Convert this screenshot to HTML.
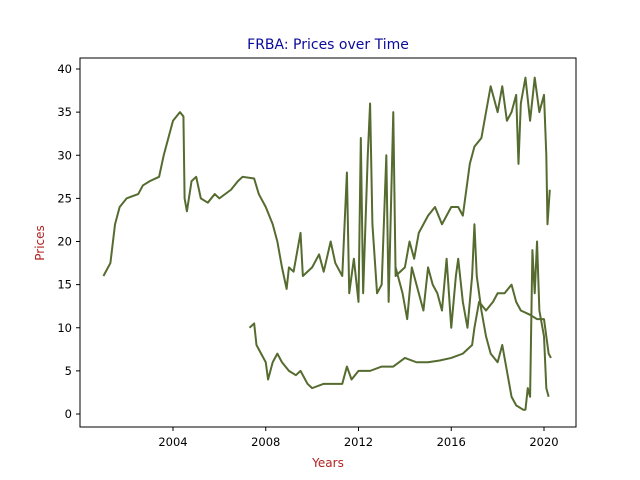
<!DOCTYPE html>
<html><head><meta charset="utf-8"><style>
body{margin:0;background:#fff;}
svg{display:block;font-family:"DejaVu Sans","Liberation Sans",sans-serif;}
</style></head><body>
<svg id="chart" width="640" height="480">
<rect x="0" y="0" width="640" height="480" fill="#fff"/>
<text x="328" y="49" text-anchor="middle" font-size="14" fill="#0a0a9a">FRBA: Prices over Time</text>
<text x="328" y="467" text-anchor="middle" font-size="12" fill="#b22222">Years</text>
<text transform="translate(44,243) rotate(-90)" text-anchor="middle" font-size="12" fill="#b22222">Prices</text>
<g id="plot"></g>
<rect x="80" y="58" width="496" height="369" fill="none" stroke="#000" stroke-width="1"/>
</svg>
<script>
const xTicks=[2004,2008,2012,2016,2020];
const yTicks=[0,5,10,15,20,25,30,35,40];
const upperYears=[2001.0,2001.3,2001.5,2001.7,2002,2002.5,2002.7,2003,2003.4,2003.6,2003.8,2004,2004.3,2004.45,2004.5,2004.6,2004.8,2005,2005.2,2005.5,2005.8,2006,2006.5,2006.8,2007,2007.5,2007.7,2008,2008.3,2008.5,2008.7,2008.9,2009,2009.2,2009.5,2009.6,2010,2010.3,2010.5,2010.8,2011,2011.3,2011.5,2011.6,2011.8,2012,2012.1,2012.2,2012.4,2012.5,2012.6,2012.8,2013,2013.2,2013.3,2013.5,2013.6,2014,2014.2,2014.4,2014.6,2015,2015.3,2015.6,2016,2016.3,2016.5,2016.8,2017,2017.3,2017.5,2017.7,2018,2018.2,2018.4,2018.6,2018.8,2018.9,2019,2019.2,2019.4,2019.6,2019.8,2020,2020.1,2020.15,2020.25];
const upperPrices=[16,17.5,22,24,25,25.5,26.5,27,27.5,30,32,34,35,34.5,25,23.5,27,27.5,25,24.5,25.5,25,26,27,27.5,27.3,25.5,24,22,20,17,14.5,17,16.5,21,16,17,18.5,16.5,20,17.5,16,28,14,18,13,32,14,30,36,22,14,15,30,13,35,16,17,20,18,21,23,24,22,24,24,23,29,31,32,35,38,35,38,34,35,37,29,36,39,34,39,35,37,30,22,26];
const middleYears=[2013.6,2013.9,2014.1,2014.3,2014.6,2014.8,2015,2015.2,2015.4,2015.6,2015.8,2016,2016.2,2016.3,2016.5,2016.7,2016.9,2017,2017.1,2017.3,2017.5,2017.7,2018,2018.2,2018.4,2018.6,2018.8,2019.1,2019.2,2019.3,2019.4,2019.5,2019.6,2019.7,2019.8,2020,2020.1,2020.2];
const middlePrices=[17,14,11,17,14,12,17,15,14,12,18,10,16,18,13,10,16,22,16,12,9,7,6,8,5,2,1,0.5,0.5,3,2,19,14,20,12,9,3,2];
const lowerYears=[2007.3,2007.5,2007.6,2008,2008.1,2008.3,2008.5,2008.7,2009,2009.3,2009.5,2009.8,2010,2010.5,2011,2011.3,2011.5,2011.7,2012,2012.5,2013,2013.5,2014,2014.5,2015,2015.5,2016,2016.5,2016.9,2017,2017.2,2017.5,2017.8,2018,2018.3,2018.6,2018.8,2019,2019.4,2019.7,2020,2020.1,2020.2,2020.3];
const lowerPrices=[10,10.5,8,6,4,6,7,6,5,4.5,5,3.5,3,3.5,3.5,3.5,5.5,4,5,5,5.5,5.5,6.5,6,6,6.2,6.5,7,8,10,13,12,13,14,14,15,13,12,11.5,11,11,9,7,6.5];
const NS='http://www.w3.org/2000/svg';
const X=v=>173+(v-2004)*(544-173)/16;
const Y=v=>414-v*(414-69)/40;
const g=document.getElementById('plot');
function mk(t,a){const e=document.createElementNS(NS,t);for(const k in a)e.setAttribute(k,a[k]);g.appendChild(e);return e;}
xTicks.forEach(t=>{
 const l=mk('line',{x1:X(t),x2:X(t),y1:427,y2:431,stroke:'#000'});
 
 
 const tx=mk('text',{x:X(t),y:446,'text-anchor':'middle','font-size':11.5});tx.textContent=t;
 
 
});
yTicks.forEach(t=>{
 const l=mk('line',{x1:76,x2:80,y1:Y(t),y2:Y(t),stroke:'#000'});
 
 
 const tx=mk('text',{x:72,y:Y(t)+4,'text-anchor':'end','font-size':11.5});tx.textContent=t;
 
 
});
function line(xs,ys,name){
 const p=mk('polyline',{points:xs.map((x,i)=>X(x)+','+Y(ys[i])).join(' '),fill:'none',stroke:'#556b2f','stroke-width':2,'stroke-linejoin':'round'});
 
 
}
line(upperYears,upperPrices,'price-line-upper');
line(middleYears,middlePrices,'price-line-middle');
line(lowerYears,lowerPrices,'price-line-lower');
</script>
</body></html>
